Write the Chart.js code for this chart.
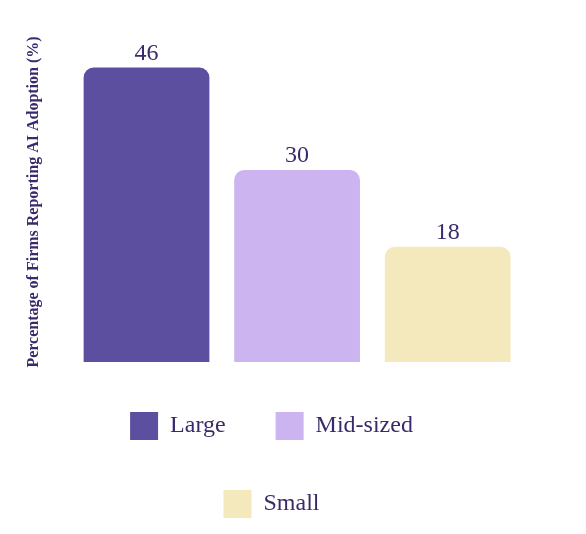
<!DOCTYPE html>
<html><head><meta charset="utf-8">
<script src="https://cdn.jsdelivr.net/npm/chart.js@4/dist/chart.umd.min.js"></script>
<style>html,body{margin:0;background:#fff}#w{width:586px;height:534px}</style>
</head><body><div id="w"><canvas id="c"></canvas></div>
<script>
const categories = ["Large", "Mid-sized", "Small"];
const values = [46, 30, 18];
const colors = ["#5c4f9f", "#cbb4ef", "#f4e9bc"];
const yTitle = "Percentage of Firms Reporting AI Adoption (%)";
const txt = "#3a2a6c";
const font = "'Liberation Serif', 'DejaVu Serif', serif";

const labelPlugin = {
  id: "vals",
  afterDatasetsDraw(chart) {
    const ctx = chart.ctx;
    const meta = chart.getDatasetMeta(0);
    ctx.save();
    ctx.fillStyle = txt;
    ctx.font = "24px " + font;
    ctx.textAlign = "center";
    ctx.textBaseline = "bottom";
    meta.data.forEach((b, i) => ctx.fillText(values[i], b.x, b.y - 2));
    ctx.restore();
  }
};

new Chart(document.getElementById("c"), {
  type: "bar",
  data: { labels: categories, datasets: [{ data: values, backgroundColor: colors,
    borderRadius: { topLeft: 10, topRight: 10 }, borderSkipped: "bottom",
    barPercentage: 0.835, categoryPercentage: 1 }] },
  options: {
    responsive: true, maintainAspectRatio: false, animation: false,
    layout: { padding: { left: 20, right: 63, top: 42, bottom: 6 } },
    scales: {
      x: { display: false },
      y: { min: 0, max: 50, grid: { display: false }, border: { display: false },
        ticks: { display: false },
        title: { display: true, text: yTitle, color: txt, font: { family: font, size: 16, weight: "bold" }, padding: { bottom: 20 } } }
    },
    plugins: {
      tooltip: { enabled: false },
      legend: { position: "bottom",
        labels: { color: txt, font: { family: font, size: 24 }, boxWidth: 28, boxHeight: 28, padding: 50,
          generateLabels: () => categories.map((c, i) => ({ text: c, fillStyle: colors[i], strokeStyle: colors[i], fontColor: txt, lineWidth: 0, index: i })) } }
    }
  },
  plugins: [labelPlugin]
});
</script></body></html>
